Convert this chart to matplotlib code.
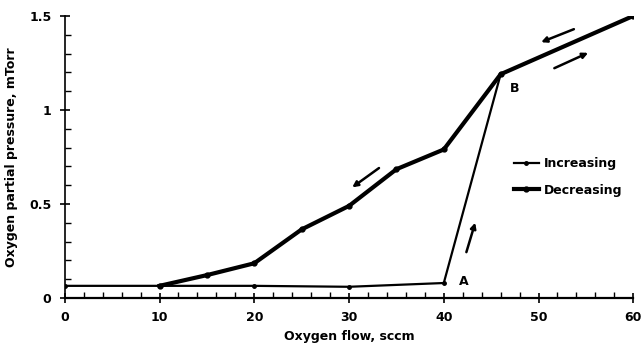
import matplotlib.pyplot as plt
from matplotlib.ticker import MultipleLocator

# increasing oxygen flow
inc_x = [0, 10, 20, 30, 40, 46, 60]
inc_y = [0.065, 0.065, 0.065, 0.06, 0.08, 1.19, 1.5]

# decreasing oxygen flow
dec_x = [60, 46, 40, 35, 30, 25, 20, 15, 10]
dec_y = [1.5, 1.19, 0.79, 0.685, 0.49, 0.365, 0.185, 0.122, 0.065]

# direction arrows (tail -> head)
arrows = [
    ((54.0, 1.435), (50.0, 1.355)),
    ((51.4, 1.216), (55.5, 1.31)),
    ((33.4, 0.70), (30.1, 0.58)),
    ((42.3, 0.23), (43.4, 0.415)),
]

FONT = {'family': 'Liberation Sans Narrow', 'weight': 'bold', 'size': 9}

fig = plt.figure(figsize=(6.41, 3.54), dpi=100)
ax = fig.add_axes([0.101, 0.158, 0.887, 0.797])

ax.plot(inc_x, inc_y, color='black', lw=1.6, marker='o', ms=2.5,
        label='Increasing')
ax.plot(dec_x, dec_y, color='black', lw=3.0, marker='o', ms=3.5,
        label='Decreasing')

for (x0, y0), (x1, y1) in arrows:
    ax.annotate('', xy=(x1, y1), xytext=(x0, y0),
                arrowprops=dict(arrowstyle='-|>', color='black', lw=1.8,
                                mutation_scale=8))

ax.text(42.1, 0.09, 'A', fontdict=FONT, ha='center', va='center')
ax.text(47.5, 1.115, 'B', fontdict=FONT, ha='center', va='center')

ax.set_xlim(0, 60)
ax.set_ylim(0, 1.5)
ax.xaxis.set_major_locator(MultipleLocator(10))
ax.xaxis.set_minor_locator(MultipleLocator(2))
ax.yaxis.set_major_locator(MultipleLocator(0.5))
ax.yaxis.set_minor_locator(MultipleLocator(0.1))
ax.set_yticks([0, 0.5, 1, 1.5])
ax.set_yticklabels(['0', '0.5', '1', '1.5'])

ax.tick_params(which='major', direction='inout', length=7, width=1.2,
               labelsize=9, pad=6)
ax.tick_params(which='minor', direction='in', length=4, width=1)
for lab in ax.get_xticklabels() + ax.get_yticklabels():
    lab.set_fontfamily('Liberation Sans Narrow')
    lab.set_fontweight('bold')

for s in ['top', 'right']:
    ax.spines[s].set_visible(False)
ax.spines['left'].set_linewidth(1.2)
ax.spines['bottom'].set_linewidth(1.6)

ax.set_xlabel('Oxygen flow, sccm', fontdict=FONT, labelpad=4)
ax.set_ylabel('Oxygen partial pressure, mTorr', fontdict=FONT, labelpad=8)

leg = ax.legend(loc='upper left', bbox_to_anchor=(0.77, 0.54), frameon=False,
                handlelength=2.0, handletextpad=0.4, labelspacing=1.1,
                prop={'family': 'Liberation Sans Narrow', 'weight': 'bold',
                      'size': 9})

fig.savefig('out.png', dpi=100)
